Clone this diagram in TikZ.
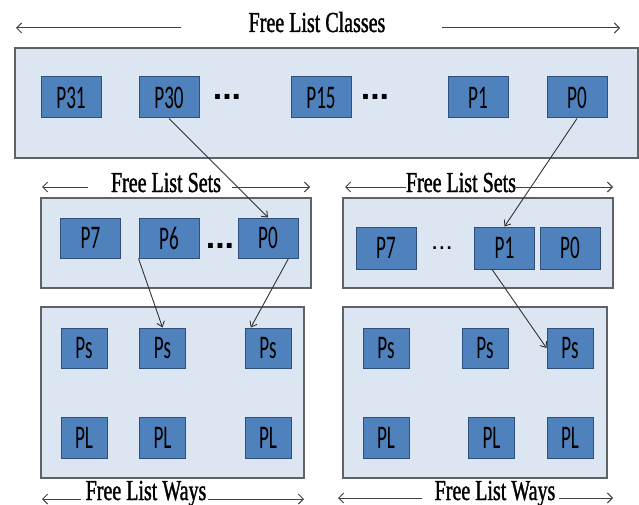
\documentclass[tikz,border=0pt]{standalone}
\usepackage{fontspec}
\setmainfont{Liberation Serif}
\newfontfamily\capfont[FakeStretch=0.69,FakeBold=1.2]{Liberation Serif}
\newfontfamily\boxfont[FakeStretch=0.58]{Carlito}
\newfontfamily\dotfont{Liberation Sans}
\usepackage{xcolor}
\usepackage{tikz}
\usetikzlibrary{positioning,arrows.meta}
\definecolor{panelfill}{HTML}{DCE6F2}
\definecolor{panelline}{HTML}{5F6368}
\definecolor{pfill}{HTML}{4F81BD}
\definecolor{pline}{HTML}{2F4F7A}

\begin{document}
\begin{tikzpicture}[x=1pt,y=-1pt,
    panel/.style={draw=panelline, line width=1.4pt, fill=panelfill, inner sep=0pt},
    pbox/.style={draw=pline, line width=1pt, fill=pfill, inner sep=0pt, minimum width=60pt, minimum height=41pt, font=\boxfont\fontsize{33}{33}\selectfont},
    wbox/.style={pbox, minimum width=46pt, minimum height=40pt},
    caption/.style={font=\capfont\fontsize{29}{29}\selectfont, inner sep=0pt, anchor=base},
    bigdots/.style={font=\dotfont\bfseries\fontsize{34}{34}\selectfont, inner sep=0pt},
    span/.style={draw=black!75, line width=1pt, -{Straight Barb[length=5pt,width=10pt]}},
    link/.style={draw=black!80, line width=0.9pt, -{Straight Barb[length=5pt,width=8pt]}}]
                \useasboundingbox (0,0) rectangle (639,505);
                \node[caption] (tclasses) at (317,32) {Free List Classes};
                \coordinate (tclassesL) at (16,28);
                \coordinate (tclassesR) at (620,28);
                \draw[span] ([xshift=-67pt,yshift=4pt]tclasses.base west) -- (tclassesL);
                \draw[span] ([xshift=56pt,yshift=4pt]tclasses.base east) -- (tclassesR);
                \node[panel, minimum width=623pt, minimum height=110pt] (classes) at (326.5,103) {};
                \node[pbox] (c31) at (71,97.5) {P31};
                \node[pbox] (c30) at (169,97.5) {P30};
                \node[bigdots] (cdotsA) at (227,97) {...};
                \node[pbox] (c15) at (321,97.5) {P15};
                \node[bigdots] (cdotsB) at (375,97) {...};
                \node[pbox] (c1) at (478,97.5) {P1};
                \node[pbox] (c0) at (577,97.5) {P0};
                \begin{scope}
                    \node[caption] (tsetsA) at (166,192) {Free List Sets};
                    \coordinate (tsetsAL) at (42,187);
                    \coordinate (tsetsAR) at (310,187);
                    \draw[span] ([xshift=-23pt,yshift=5pt]tsetsA.base west) -- (tsetsAL);
                    \draw[span] ([xshift=11pt,yshift=5pt]tsetsA.base east) -- (tsetsAR);
                    \node[panel, minimum width=270pt, minimum height=90pt] (setsA) at (176,243) {};
                    \node[pbox, minimum height=40pt] (sa7) at (90.5,238) {P7};
                    \node[pbox, minimum height=40pt] (sa6) at (169,238) {P6};
                    \node[bigdots] (sadots) at (220,246) {...};
                    \node[pbox, minimum height=40pt] (sa0) at (268,238) {P0};
                \end{scope}
                \begin{scope}
                    \node[caption] (tsetsB) at (461,192) {Free List Sets};
                    \coordinate (tsetsBL) at (345,187);
                    \coordinate (tsetsBR) at (613,187);
                    \draw[span] ([yshift=5pt]tsetsB.base west) -- (tsetsBL);
                    \draw[span] ([yshift=5pt]tsetsB.base east) -- (tsetsBR);
                    \node[panel, minimum width=270pt, minimum height=90pt] (setsB) at (478,243) {};
                    \node[pbox, minimum height=42pt] (sb7) at (386,248) {P7};
                    \node[bigdots, font=\dotfont\fontsize{26}{26}\selectfont] (sbdots) at (442,248) {...};
                    \node[pbox, minimum height=42pt] (sb1) at (504.5,248) {P1};
                    \node[pbox, minimum height=42pt] (sb0) at (570,248) {P0};
                \end{scope}
                \begin{scope}
                    \node[panel, minimum width=263pt, minimum height=171pt] (waysA) at (172.5,392.5) {};
                    \node[wbox] (wa1) at (84,348) {Ps};
                    \node[wbox] (wa2) at (162.5,348) {Ps};
                    \node[wbox] (wa3) at (268,348) {Ps};
                    \node[wbox, minimum height=41pt] (la1) at (84,437.5) {PL};
                    \node[wbox, minimum height=41pt] (la2) at (162.5,437.5) {PL};
                    \node[wbox, minimum height=41pt] (la3) at (268,437.5) {PL};
                    \node[caption] (twaysA) at (146,500) {Free List Ways};
                    \coordinate (twaysAL) at (42,499);
                    \coordinate (twaysAR) at (304,499);
                    \draw[span] ([xshift=-4pt,yshift=1pt]twaysA.base west) -- (twaysAL);
                    \draw[span] ([xshift=1pt,yshift=1pt]twaysA.base east) -- (twaysAR);
                \end{scope}
                \begin{scope}
                    \node[panel, minimum width=264pt, minimum height=171pt] (waysB) at (475,392.5) {};
                    \node[wbox] (wb1) at (386,348) {Ps};
                    \node[wbox] (wb2) at (485,348) {Ps};
                    \node[wbox] (wb3) at (570,348) {Ps};
                    \node[wbox, minimum height=41pt] (lb1) at (386,437.5) {PL};
                    \node[wbox, minimum height=41pt] (lb2) at (491.5,437.5) {PL};
                    \node[wbox, minimum height=41pt] (lb3) at (570,437.5) {PL};
                    \node[caption] (twaysB) at (495,500) {Free List Ways};
                    \coordinate (twaysBL) at (338,498);
                    \coordinate (twaysBR) at (613,498);
                    \draw[span] ([xshift=-12pt,yshift=2pt]twaysB.base west) -- (twaysBL);
                    \draw[span] ([xshift=3pt,yshift=2pt]twaysB.base east) -- (twaysBR);
                \end{scope}
                \draw[link] (c30.south) -- (sa0.north);
                \draw[link] (c0.south) -- (sb1.north);
                \draw[link] (sa6.south west) -- (wa2.north);
                \draw[link] (sa0.-45) -- (wa3.130);
                \draw[link] (sb1.-120) -- (wb3.west);
            \end{tikzpicture}
\end{document}
